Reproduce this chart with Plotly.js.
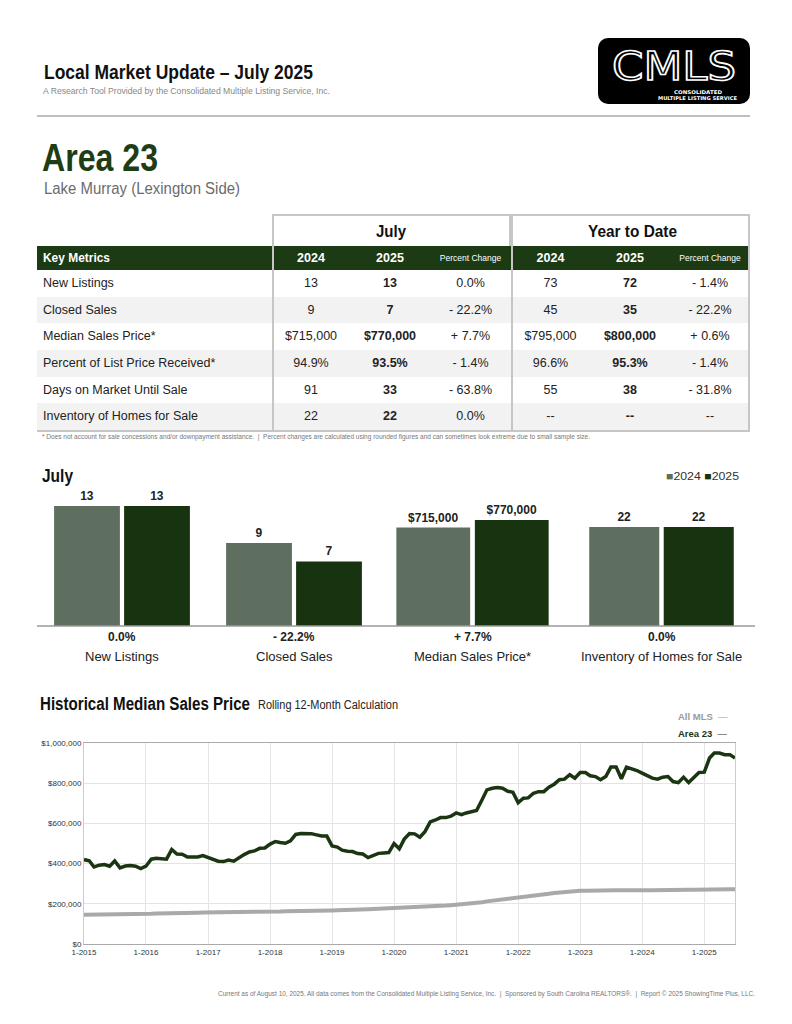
<!DOCTYPE html>
<html><head><meta charset="utf-8">
<script src="https://cdn.plot.ly/plotly-3.0.1.min.js"></script>
<style>
body{margin:0;background:#fff;}
#page{position:relative;width:792px;height:1024px;overflow:hidden;font-family:"Liberation Sans",Arial,sans-serif;color:#222;}
.abs{position:absolute;white-space:nowrap;}
.cell{position:absolute;white-space:nowrap;text-align:center;font-size:12.5px;}
</style></head><body><div id="page">
<div class="abs" style="left:37px;top:115px;width:713px;height:2px;background:#c0c0c0"></div>
<div id="logo" class="abs" style="left:598px;top:38px;width:152px;height:66px;background:#000;border-radius:10px;overflow:hidden"></div>
<div id="tbl"></div>
<div id="bars" class="abs" style="left:0;top:460px;width:792px;height:210px"></div>
<div id="hist" class="abs" style="left:0;top:690px;width:792px;height:280px"></div>
</div>
<script>
// ---------- table data ----------
const metrics = ["New Listings","Closed Sales","Median Sales Price*","Percent of List Price Received*","Days on Market Until Sale","Inventory of Homes for Sale"];
const jul2024 = ["13","9","$715,000","94.9%","91","22"];
const jul2025 = ["13","7","$770,000","93.5%","33","22"];
const julPct  = ["0.0%","- 22.2%","+ 7.7%","- 1.4%","- 63.8%","0.0%"];
const ytd2024 = ["73","45","$795,000","96.6%","55","--"];
const ytd2025 = ["72","35","$800,000","95.3%","38","--"];
const ytdPct  = ["- 1.4%","- 22.2%","+ 0.6%","- 1.4%","- 31.8%","--"];
const groupHeads = ["July","Year to Date"];
const colHeads = ["Key Metrics","2024","2025","Percent Change","2024","2025","Percent Change"];

// ---------- bar data ----------
const barCats = ["New Listings","Closed Sales","Median Sales Price*","Inventory of Homes for Sale"];
const bar2024 = [13, 9, 715000, 22];
const bar2025 = [13, 7, 770000, 22];
const barPct  = ["0.0%","- 22.2%","+ 7.7%","0.0%"];
const barYears = ["2024","2025"];

// ---------- historical data (monthly, 1-2015 .. 7-2025), $ thousands ----------
const startYear = 2015;
const area23 = [
 420,414,383,392,395,387,413,379,388,390,387,375,
 387,422,426,422,422,470,448,447,433,433,433,440,
 430,418,412,410,418,412,430,445,458,463,476,478,
 497,510,505,501,513,545,550,550,549,543,537,537,
 488,482,467,462,460,450,448,430,441,451,453,455,
 500,474,522,550,548,531,559,607,617,629,629,636,
 652,644,652,656,664,715,767,775,778,775,760,755,
 703,725,727,750,758,758,780,795,817,820,842,825,
 853,853,837,833,817,833,880,880,822,880,872,863,
 850,837,825,820,830,833,808,803,830,803,830,853,
 855,925,950,950,942,942,925
];
const allMLS = [
 146,146,147,147,148,148,149,149,149,150,150,150,
 151,151,152,152,153,154,154,155,155,156,156,157,
 157,158,158,159,159,160,160,160,161,161,161,161,
 162,162,162,163,163,164,164,165,165,166,166,167,
 167,168,168,169,170,171,172,173,174,175,176,177,
 178,178,179,180,180,181,183,185,187,189,191,193,
 195,197,199,202,205,208,212,215,218,221,224,227,
 229,231,234,238,242,246,250,254,257,260,262,264,
 265,265,266,266,266,267,267,267,267,268,268,268,
 268,268,268,269,269,269,269,270,270,270,270,271,
 271,271,272,272,272,273,273
];
const lineNames = ["All MLS","Area 23"];
const yTickVals = [0,200000,400000,600000,800000,1000000];
const yTickText = ["$0","$200,000","$400,000","$600,000","$800,000","$1,000,000"];
const xTickText = ["1-2015","1-2016","1-2017","1-2018","1-2019","1-2020","1-2021","1-2022","1-2023","1-2024","1-2025"];

const FONT = '"Liberation Sans",Arial,sans-serif';
const GREEN = '#1c3a13';
const page = document.getElementById('page');

// text helper: places text by left edge & baseline, optionally squeezes to a target width
function T(html, o, parent){
  const d = document.createElement('div');
  d.className = 'abs';
  d.innerHTML = html;
  const fam = o.f || FONT;
  const k = o.k || 0.8465;
  d.style.cssText = `left:${o.l}px;top:${o.base - k*o.fs}px;font-size:${o.fs}px;line-height:1;font-family:${fam};font-weight:${o.b?'bold':'normal'};color:${o.c||'#222'};`;
  (parent||page).appendChild(d);
  if(o.w){
    const nw = d.getBoundingClientRect().width;
    d.style.transformOrigin = '0 0';
    d.style.transform = `scaleX(${o.w/nw})`;
  }
  return d;
}

// ---------- header ----------
T('Local Market Update – July 2025', {l:44, base:79, fs:20, b:1, w:269, c:'#111'});
T('A Research Tool Provided by the Consolidated Multiple Listing Service, Inc.', {l:43, base:95, fs:9, w:287, c:'#888'});
T('Area 23', {l:42, base:171, fs:38, b:1, w:116, c:'#1f3d14'});
T('Lake Murray (Lexington Side)', {l:44, base:195, fs:16, w:196, c:'#6b6b6b'});
// logo (coordinates relative to logo box at 598,38)
(function(){
  const lg = document.getElementById('logo');
  const c = T('CMLS', {l:14, base:42, fs:39, f:"'DejaVu Sans',sans-serif", w:124, c:'#000', k:0.721}, lg);
  c.style.lineHeight = '0.75';
  c.style.webkitTextStroke = '1.6px #fff';
  T('CONSOLIDATED', {l:76, base:56.5, fs:5, b:1, f:"'DejaVu Sans',sans-serif", w:48, c:'#fff'}, lg);
  T('MULTIPLE LISTING SERVICE', {l:60, base:62.5, fs:5, b:1, f:"'DejaVu Sans',sans-serif", w:79, c:'#fff'}, lg);
})();

// ---------- table ----------
(function(){
  const t = document.getElementById('tbl');
  const colX = [37,272,350,430,511,590,670,750];
  let h = '';
  const add = s => h += s;
  [[272],[511]].forEach(([x])=>{
    add(`<div class="abs" style="left:${x}px;top:214px;width:239px;height:32px;box-sizing:border-box;border:2px solid #c6c6c6;border-bottom:none"></div>`);
  });
  add(`<div class="abs" style="left:37px;top:246px;width:713px;height:24px;background:${GREEN}"></div>`);
  colHeads.forEach((c,i)=>{
    const isPct = c==="Percent Change";
    if(i>0) add(`<div class="cell" style="left:${colX[i]}px;width:${colX[i+1]-colX[i]}px;top:246px;line-height:24px;font-size:${isPct?8.5:12.5}px;font-weight:${isPct?'normal':'bold'};color:#fff">${c}</div>`);
  });
  const rowH = 26.67;
  metrics.forEach((m,r)=>{
    const top = 270 + r*rowH;
    add(`<div class="abs" style="left:37px;top:${top}px;width:713px;height:${rowH}px;background:${r%2?'#f2f2f2':'#fff'}"></div>`);
    add(`<div class="abs" style="left:43px;top:${top}px;line-height:${rowH}px;font-size:12.5px;color:#222">${m}</div>`);
    const vals = [jul2024[r],jul2025[r],julPct[r],ytd2024[r],ytd2025[r],ytdPct[r]];
    vals.forEach((v,i)=>{
      const bold = (i===1||i===4);
      add(`<div class="cell" style="left:${colX[i+1]}px;width:${colX[i+2]-colX[i+1]}px;top:${top}px;line-height:${rowH}px;font-weight:${bold?'bold':'normal'};color:#222">${v}</div>`);
    });
  });
  [272,511,748].forEach(x=>add(`<div class="abs" style="left:${x}px;top:244px;width:2px;height:187px;background:#c6c6c6"></div>`));
  add(`<div class="abs" style="left:37px;top:430px;width:713px;height:2px;background:#c6c6c6"></div>`);
  t.innerHTML = h;
  T(groupHeads[0], {l:376, base:237, fs:17, b:1, w:30, c:'#111'});
  T(groupHeads[1], {l:588, base:237, fs:17, b:1, w:89, c:'#111'});
  T(colHeads[0], {l:43, base:262.5, fs:12.5, b:1, w:67, c:'#fff'});
})();
T('* Does not account for sale concessions and/or downpayment assistance.&nbsp; |&nbsp; Percent changes are calculated using rounded figures and can sometimes look extreme due to small sample size.', {l:42, base:440, fs:6.5, w:548, c:'#777'});

// ---------- bar chart ----------
(function(){
  const W = 792, H = 210, top0 = 460;
  const px = x => x/W, py = y => 1 - (y-top0)/H;
  const dom = [[54,190],[226,362],[396,549],[589,734]];
  const ranges = [15.17, 15.17, 1017000, 31.1];
  const c24 = '#5f6f5f', c25 = '#17330f';
  const yDom = [py(626), py(486)];
  const traces = [], layout = {
    width: W, height: H, margin:{l:0,r:0,t:0,b:0}, showlegend:false,
    paper_bgcolor:'rgba(0,0,0,0)', plot_bgcolor:'rgba(0,0,0,0)', bargap:0.06,
    font:{family:FONT, color:'#222'}, annotations:[], shapes:[]
  };
  barCats.forEach((cat,g)=>{
    const s = g===0?'':String(g+1);
    const vals = [bar2024[g], bar2025[g]];
    traces.push({
      type:'bar', x: barYears, y: vals, xaxis:'x'+s, yaxis:'y'+s,
      marker:{color:[c24,c25]},
      text: vals.map(v=> v>=1000 ? '$'+v.toLocaleString('en-US') : String(v)),
      textposition:'outside', cliponaxis:false, constraintext:'none',
      textfont:{family:FONT,size:12,color:'#222',weight:'bold'},
      hoverinfo:'skip'
    });
    layout['xaxis'+s] = {domain:[px(dom[g][0])-px(2), px(dom[g][1])+px(2)], anchor:'y'+s, showticklabels:false, showgrid:false, zeroline:false, showline:false, ticks:'', fixedrange:true, type:'category'};
    layout['yaxis'+s] = {domain:yDom, anchor:'x'+s, range:[0,ranges[g]], visible:false, fixedrange:true};
    const cx = px((dom[g][0]+dom[g][1])/2);
    layout.annotations.push({xref:'paper',yref:'paper',x:cx,y:py(637),text:'<b>'+barPct[g]+'</b>',showarrow:false,xanchor:'center',yanchor:'middle',font:{family:FONT,size:12,color:'#222'}});
    layout.annotations.push({xref:'paper',yref:'paper',x:cx,y:py(656),text:cat,showarrow:false,xanchor:'center',yanchor:'middle',font:{family:FONT,size:13,color:'#222'}});
  });
  layout.shapes.push({type:'line',xref:'paper',yref:'paper',x0:px(37),x1:px(755),y0:py(626),y1:py(626),line:{color:'#9a9a9a',width:1.5}});
  Plotly.newPlot('bars', traces, layout, {staticPlot:true, displayModeBar:false});
  T('July', {l:42, base:482, fs:18, b:1, w:31, c:'#111'});
  T('<span style="color:'+c24+'">■</span>'+barYears[0]+' <span style="color:'+c25+'">■</span>'+barYears[1], {l:666, base:480, fs:11, w:73, c:'#333'});
})();

// ---------- historical line chart ----------
(function(){
  const dates = area23.map((_,i)=>{
    const y = startYear + Math.floor(i/12), m = i%12 + 1;
    return y + '-' + String(m).padStart(2,'0') + '-01';
  });
  const tickDates = xTickText.map(t=>t.split('-')[1] + '-01-01');
  const L = 84, R = 735, T0 = 743, B = 944, W = 792, H = 280, top0 = 690;
  const pxX = x => (x-L)/(R-L), pxY = y => (B-y)/(B-T0);
  const traces = [
    {type:'scatter', mode:'lines', name:lineNames[0], x:dates, y:allMLS.map(v=>v*1000), line:{color:'#a9a9a9', width:4}, hoverinfo:'skip'},
    {type:'scatter', mode:'lines', name:lineNames[1], x:dates, y:area23.map(v=>v*1000), line:{color:'#1b3512', width:3.5}, hoverinfo:'skip'}
  ];
  const layout = {
    width:W, height:H, margin:{l:L, r:W-R, t:T0-top0, b:top0+H-B}, showlegend:false,
    paper_bgcolor:'rgba(0,0,0,0)', plot_bgcolor:'#fff',
    font:{family:FONT, color:'#333'},
    xaxis:{type:'date', range:[dates[0], dates[dates.length-1]], tickvals:tickDates, ticktext:xTickText, tickfont:{family:FONT,size:8,color:'#333'}, gridcolor:'#e4e4e4', showline:true, linecolor:'#aaa', mirror:true, zeroline:false, ticks:'', fixedrange:true},
    yaxis:{range:[0,1000000], tickvals:yTickVals, ticktext:yTickText, tickfont:{family:FONT,size:8,color:'#333'}, gridcolor:'#e4e4e4', showline:true, linecolor:'#ccc', mirror:true, zeroline:false, ticks:'', fixedrange:true},
    annotations:[
      {xref:'paper',yref:'paper',x:pxX(730),y:pxY(717),text:'<b>'+lineNames[0]+'</b>  —',showarrow:false,xanchor:'right',yanchor:'middle',font:{family:FONT,size:9.5,color:'#9a9a9a'}},
      {xref:'paper',yref:'paper',x:pxX(730),y:pxY(733),text:'<b>'+lineNames[1]+'</b>  —',showarrow:false,xanchor:'right',yanchor:'middle',font:{family:FONT,size:9.5,color:'#1b3512'}}
    ]
  };
  Plotly.newPlot('hist', traces, layout, {staticPlot:true, displayModeBar:false});
  T('Historical Median Sales Price', {l:40, base:710, fs:18, b:1, w:210, c:'#111'});
  T('Rolling 12-Month Calculation', {l:258, base:709, fs:12, w:140, c:'#222'});
})();
T('Current as of August 10, 2025. All data comes from the Consolidated Multiple Listing Service, Inc.&nbsp; |&nbsp; Sponsored by South Carolina REALTORS®.&nbsp; |&nbsp; Report © 2025 ShowingTime Plus, LLC.', {l:218, base:997, fs:6.5, w:537, c:'#777'});
</script>
</body></html>
